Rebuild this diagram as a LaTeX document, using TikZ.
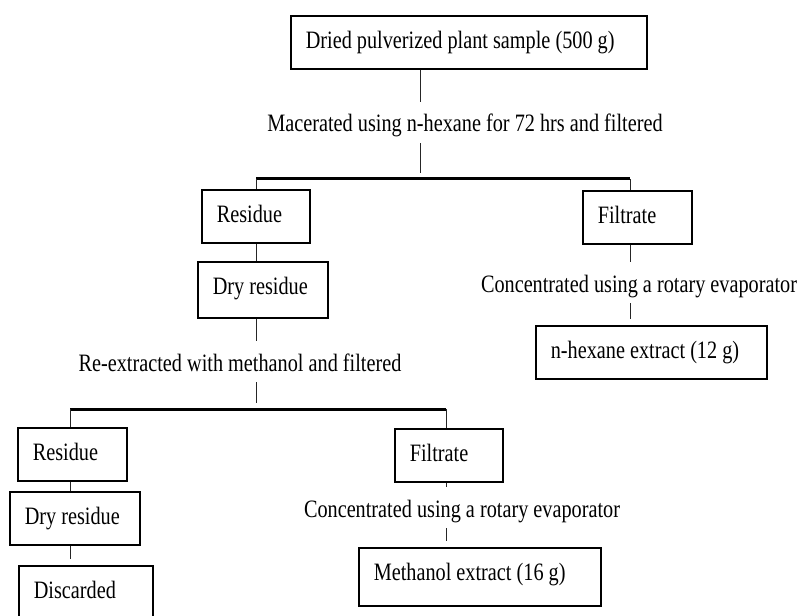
\documentclass[tikz,border=0pt]{standalone}
\usepackage{fontspec}
\setmainfont[FakeStretch=0.81]{Liberation Serif}
\begin{document}
\begin{tikzpicture}[
    x=1bp, y=-1bp,
    font=\fontsize{25bp}{30bp}\selectfont,
    caja/.style={draw=black, line width=1.6bp, anchor=north west, align=flush left,
        inner xsep=15bp, inner ysep=14bp, text height=19bp, text depth=6bp},
    paso/.style={anchor=base, inner sep=0pt, text height=30bp, text depth=11bp},
    linea/.style={line width=1bp, draw=black!85},
    tramo/.style={linea, shorten >=6bp},
    barra/.style={line width=3bp, draw=black}
]
    \useasboundingbox (0,0) rectangle (801,616);
    \clip (0,0) rectangle (801,616);

    % --- MUESTRA INICIAL Y MACERACION ---
    \node[caja, text width=326bp] (muestra) at (290,15) {Dried pulverized plant sample (500 g)};
    \node[paso] (macera) at (465,132) {Macerated using n-hexane for 72 hrs and filtered};
    \coordinate (b1c) at (420,179);
    \coordinate (b1i) at (256,179);
    \coordinate (b1d) at (630,179);
    \draw[linea] (b1c |- muestra.south) -- (b1c |- macera.north);
    \draw[tramo] (b1c |- macera.south) -- (b1c);
    \draw[barra] (b1i) -- (b1d);

    % --- PRIMERA DIVISION: RESIDUO Y FILTRADO ---
    \node[caja, text width=78bp] (res1) at (201,189) {Residue};
    \node[caja, text width=79bp] (fil1) at (582,190) {Filtrate};
    \draw[linea] (b1i) -- (b1i |- res1.north);
    \draw[linea] (b1d) -- (b1d |- fil1.north);

    % Rama del residuo
    \node[caja, text width=100bp, text depth=9bp] (seco1) at (197,261) {Dry residue};
    \draw[linea] (b1i |- res1.south) -- (b1i |- seco1.north);
    \node[paso] (reext) at (240,371) {Re-extracted with methanol and filtered};
    \draw[linea] (b1i |- seco1.south) -- (b1i |- reext.north);

    % Rama del filtrado
    \node[paso] (conc1) at (639,292) {Concentrated using a rotary evaporator};
    \node[caja, text width=201bp] (hexano) at (535,325) {n-hexane extract (12 g)};
    \draw[linea] (b1d |- fil1.south) -- (b1d |- conc1.north);
    \draw[tramo] (b1d |- conc1.south) -- (b1d |- hexano.north);

    % --- SEGUNDA DIVISION (METANOL) ---
    \coordinate (b2c) at (256,409);
    \coordinate (b2i) at (70,409);
    \coordinate (b2d) at (446,409);
    \draw[tramo] (b1i |- reext.south) -- (b2c);
    \draw[barra] (b2i) -- (b2d);

    \node[caja, text width=79bp] (res2) at (17,427) {Residue};
    \node[caja, text width=78bp] (fil2) at (394,428) {Filtrate};
    \draw[linea] (b2i) -- (b2i |- res2.north);
    \draw[linea] (b2d) -- (b2d |- fil2.north);

    % Rama del residuo
    \node[caja, text width=100bp] (seco2) at (9,491) {Dry residue};
    \node[caja, text width=104bp, text depth=40bp] (desecho) at (18,565) {Discarded};
    \draw[linea] (b2i |- res2.south) -- (b2i |- seco2.north);
    \draw[tramo] (b2i |- seco2.south) -- (b2i |- desecho.north);

    % Rama del filtrado
    \node[paso] (conc2) at (462,517) {Concentrated using a rotary evaporator};
    \node[caja, text width=212bp, text depth=11bp] (metanol) at (358,547) {Methanol extract (16 g)};
    \draw[linea] (b2d |- fil2.south) -- (b2d |- conc2.north);
    \draw[tramo] (b2d |- conc2.south) -- (b2d |- metanol.north);
\end{tikzpicture}
\end{document}
